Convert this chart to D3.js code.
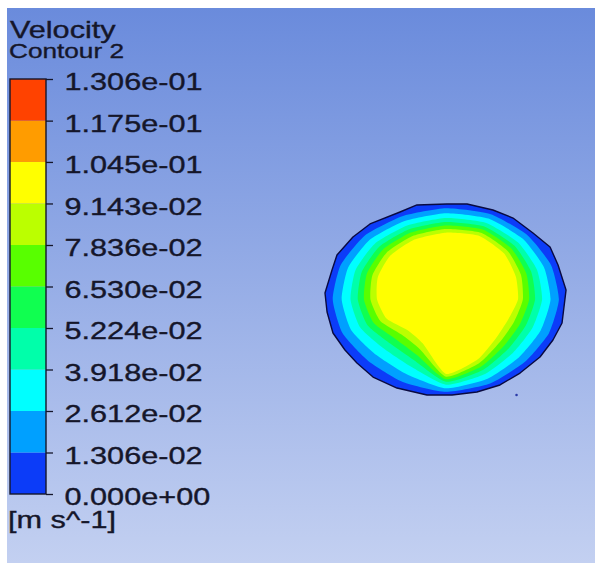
<!DOCTYPE html>
<html>
<head>
<meta charset="utf-8">
<script src="https://cdn.jsdelivr.net/npm/d3@7"></script>
<style>
  html, body { margin: 0; padding: 0; background: #fff; }
  svg { display: block; }
</style>
</head>
<body>
<svg id="chart" width="595" height="563"></svg>
<script>
// legend levels, m s^-1
var levels = [0, 0.01306, 0.02612, 0.03918, 0.05224, 0.06530, 0.07836, 0.09143, 0.1045, 0.1175, 0.1306];
var levelLabels = ['0.000e+00', '1.306e-02', '2.612e-02', '3.918e-02', '5.224e-02', '6.530e-02',
                   '7.836e-02', '9.143e-02', '1.045e-01', '1.175e-01', '1.306e-01'];
var bandColours = ['#0c3cf8', '#00a0ff', '#00ffff', '#00ffaa', '#10ff50',
                   '#58ff00', '#bbff00', '#ffff00', '#ff9c00', '#ff4200'];

// pipe wall, section coords normalised by radius
var wallX = [0.008, 0.174, 0.388, 0.554, 0.719, 0.860, 0.926, 0.992, 0.959, 0.884, 0.777, 0.612, 0.446, 0.256, 0.050,
             -0.157, -0.405, -0.603, -0.736, -0.835, -0.934, -0.983, -1.000, -0.942, -0.901, -0.769, -0.628, -0.380, -0.240];
var wallY = [1.000, 1.000, 0.937, 0.853, 0.696, 0.550, 0.361, 0.099, -0.246, -0.424, -0.602, -0.770, -0.895, -0.969, -1.000,
             -1.000, -0.927, -0.812, -0.665, -0.529, -0.351, -0.131, 0.068, 0.309, 0.466, 0.654, 0.791, 0.916, 0.990];

// iso-velocity lines: r/R along rays every 22.5 deg
var rayAngles = [0, 22.5, 45, 67.5, 90, 112.5, 135, 157.5, 180, 202.5, 225, 247.5, 270, 292.5, 315, 337.5];
var iso1 = [.933, .940, .952, .967, .955, .944, .948, .942, .936, .925, .909, .934, .967, .952, .923, .921];
var iso2 = [.864, .877, .898, .917, .904, .891, .888, .875, .862, .846, .818, .847, .930, .898, .854, .847];
var iso3 = [.794, .814, .843, .868, .853, .838, .829, .809, .789, .767, .727, .760, .892, .843, .786, .774];
var iso4 = [.736, .762, .798, .827, .811, .795, .780, .754, .729, .702, .652, .689, .861, .798, .729, .714];
var iso5 = [.687, .718, .760, .793, .775, .758, .738, .708, .678, .646, .587, .628, .835, .760, .681, .663];
var iso6 = [.635, .671, .720, .756, .738, .719, .694, .659, .624, .588, .520, .564, .808, .720, .630, .609];
var iso7 = [.595, .625, .680, .720, .700, .680, .650, .610, .570, .530, .453, .500, .780, .680, .580, .555];

var strayPoint = [0.583, -1.0];

var ink = '#15162a',
    fontFamily = '"Liberation Sans", Arial, sans-serif',
    stretch = 1.277;

var d3 = window.d3;
var svg = d3.select('#chart');

var grad = svg.append('defs').append('linearGradient')
    .attr('id', 'bg').attr('x1', 0).attr('y1', 0).attr('x2', 0).attr('y2', 1);
grad.append('stop').attr('offset', 0).attr('stop-color', '#6a8bdc');
grad.append('stop').attr('offset', 1).attr('stop-color', '#c3d0f1');

svg.append('rect')
  .attr('x', 7).attr('y', 8)
  .attr('width', 588).attr('height', 555)
  .attr('fill', 'url(#bg)');

// ---- section plot
var x = d3.scaleLinear().domain([-1, 1]).range([325, 567]),
    y = d3.scaleLinear().domain([-1, 1]).range([395, 204]);

var wallLine = d3.line()
  .x(d => x(d[0]))
  .y(d => y(d[1]))
  .curve(d3.curveLinearClosed);
var wall = d3.zip(wallX, wallY);

svg.select('defs').append('clipPath').attr('id', 'wallClip')
  .append('path').attr('d', wallLine(wall));

var ringLine = d3.line()
  .x(d => x(d[1] * Math.cos(d[0] * Math.PI / 180)))
  .y(d => y(d[1] * Math.sin(d[0] * Math.PI / 180)))
  .curve(d3.curveCardinalClosed.tension(0.45));

var section = svg.append('g');
section.append('path')
  .attr('d', wallLine(wall))
  .attr('fill', bandColours[0]);

var rings = section.append('g').attr('clip-path', 'url(#wallClip)');
rings.selectAll('path')
  .data([iso1, iso2, iso3, iso4, iso5, iso6, iso7])
  .enter()
  .append('path')
  .attr('d', r => ringLine(d3.zip(rayAngles, r)))
  .attr('fill', (r, i) => bandColours[i + 1]);

section.append('path')
  .attr('d', wallLine(wall))
  .attr('fill', 'none')
  .attr('stroke', '#0a0a40')
  .attr('stroke-width', 1.4)
  .attr('stroke-linejoin', 'round');

svg.append('circle')
  .attr('cx', x(strayPoint[0])).attr('cy', y(strayPoint[1]))
  .attr('r', 1.3).attr('fill', '#2a3aa8');

// ---- legend
var v = d3.scaleLinear().domain([0, levels[levels.length - 1]]).range([494, 79]);

svg.append('g').selectAll('rect')
  .data(bandColours)
  .enter()
  .append('rect')
  .attr('x', 10)
  .attr('width', 36)
  .attr('y', (c, i) => v(levels[i + 1]))
  .attr('height', (c, i) => v(levels[i]) - v(levels[i + 1]))
  .attr('fill', c => c);

svg.append('rect')
  .attr('x', 10).attr('y', v.range()[1])
  .attr('width', 36).attr('height', v.range()[0] - v.range()[1])
  .attr('fill', 'none')
  .attr('stroke', ink)
  .attr('stroke-width', 1.4);

var axis = d3.axisRight(v)
  .tickValues(levels)
  .tickSize(7)
  .tickPadding(11.5)
  .tickFormat((d, i) => levelLabels[i]);

var gAxis = svg.append('g')
  .attr('transform', 'translate(46,0)')
  .call(axis);
gAxis.select('.domain').remove();
gAxis.selectAll('.tick line').attr('stroke', ink).attr('stroke-width', 1.3);
gAxis.selectAll('.tick text')
  .attr('font-family', fontFamily)
  .attr('font-size', 24)
  .attr('fill', ink)
  .attr('dy', '0.44em');

function addText(str, tx, ty, size) {
  return svg.append('text')
    .attr('x', tx).attr('y', ty)
    .attr('font-family', fontFamily)
    .attr('font-size', size)
    .attr('fill', ink)
    .text(str);
}
addText('Velocity', 10, 38, 24);
addText('Contour 2', 9, 57.5, 20.5);
addText('[m s^-1]', 8, 528, 24);

// the exported image is stretched sideways, so are its letters
svg.selectAll('text').each(function () {
  var w = this.getComputedTextLength();
  d3.select(this)
    .attr('textLength', w * stretch)
    .attr('lengthAdjust', 'spacingAndGlyphs')
    .attr('stroke', ink)
    .attr('stroke-width', 0.35);
});
</script>
</body>
</html>
